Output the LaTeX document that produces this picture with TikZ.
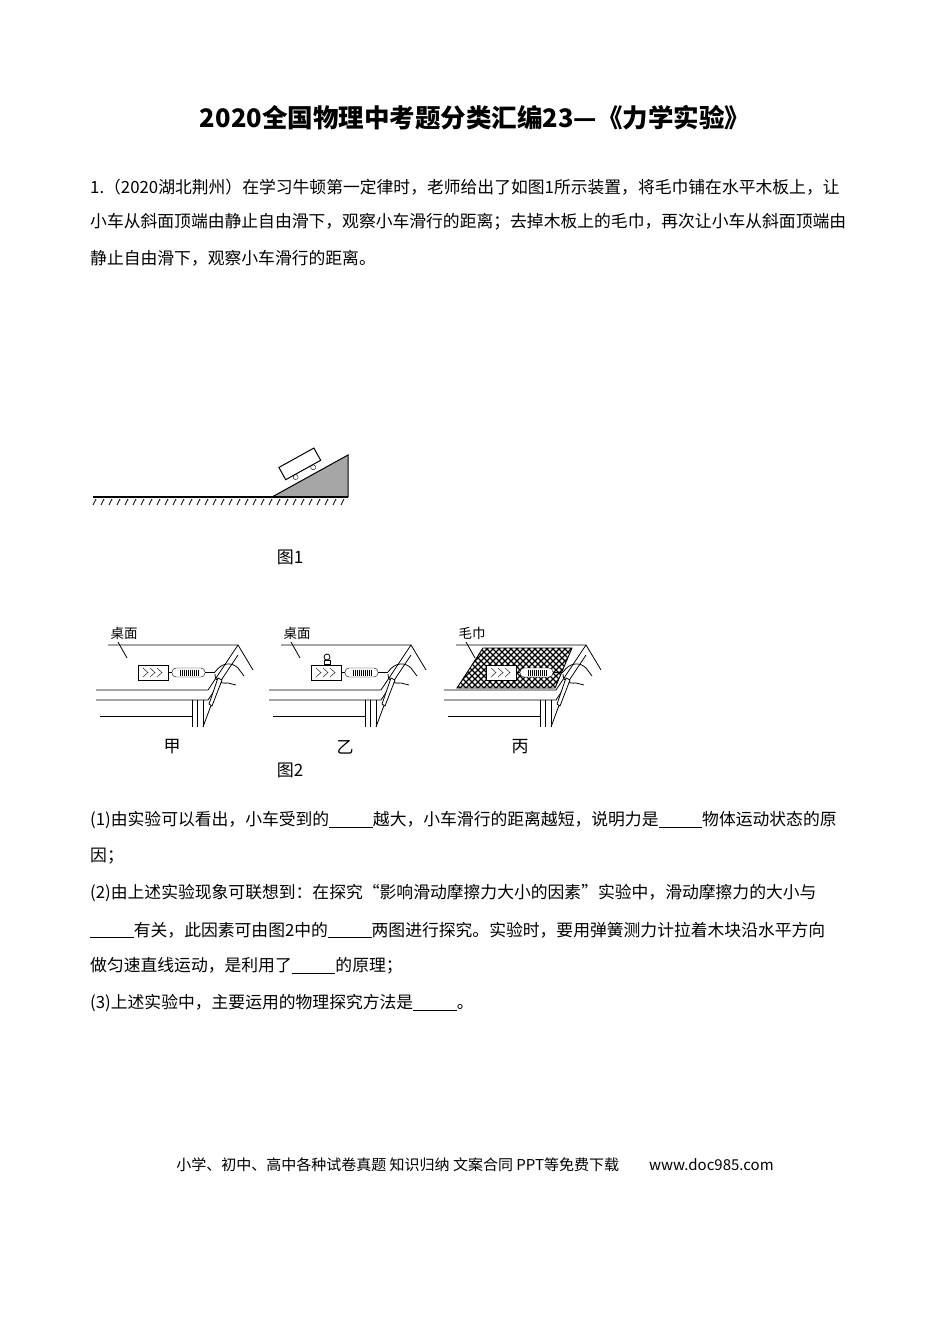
\documentclass[tikz,border=0pt]{standalone}
\usepackage{fontspec}
\setmainfont{Liberation Serif}
\newfontfamily\cjk{Noto Sans CJK SC}
\tikzset{
  line/.style={anchor=west,inner sep=0pt,font=\cjk\fontsize{16.8}{18}\selectfont},
  thin line/.style={line width=0.8pt}
}
\begin{document}
\begin{tikzpicture}[x=1pt,y=-1pt]
  \useasboundingbox[fill=white] (0,0) rectangle (950,1344);

  % title and question
  \node[font=\bfseries\cjk\fontsize{25.5}{28}\selectfont] (title) at (475,118) {2020全国物理中考题分类汇编23—《力学实验》};
  \node[line] (q1a) at (90,187) {1.（2020湖北荆州）在学习牛顿第一定律时，老师给出了如图1所示装置，将毛巾铺在水平木板上，让};
  \node[line] (q1b) at (90,222) {小车从斜面顶端由静止自由滑下，观察小车滑行的距离；去掉木板上的毛巾，再次让小车从斜面顶端由};
  \node[line] (q1c) at (90,258) {静止自由滑下，观察小车滑行的距离。};

  % figure 1
  \fill[gray!70] (272,497) -- (348,455) -- (348,497) -- cycle;
  \draw[line width=1pt] (272,497) -- (348,455) -- (348,497);
  \draw[line width=1.6pt] (93,497) -- (348,497);
  \foreach \x in {96,104,...,348}
    \draw[thin line] (\x,499) -- (\x-3,505);
  \begin{scope}[shift={(306,473)},rotate=29]
    \draw[line width=1pt,fill=white] (-21,-18) rectangle (19,-4);
    \draw (-11,-1.5) circle (2.5);
    \draw (9,-1.5) circle (2.5);
  \end{scope}
  \node[font=\cjk\fontsize{17}{18}\selectfont] (fig1) at (290,557) {图1};

  % figure 2
  \foreach \dx/\lab [count=\i] in {0/甲,173/乙,348/丙}{
    \begin{scope}[xshift=\dx]
      \draw[thin line] (108,645) -- (238,645) -- (253,670);
      \draw[thin line] (96,690) -- (208,690) -- (238,645);
      \draw[thin line] (96,700) -- (208,700) -- (238,655);
      \draw[thin line] (100,716) -- (192,716);
      \draw[thin line] (192,700) -- (192,727) (197,700) -- (197,727) (203,700) -- (203,727);
      \draw[thin line] (203,727) -- (213,700);
      \node[font=\cjk\fontsize{17}{18}\selectfont] (leg\i) at (172,747) {\lab};
    \end{scope}
  }
  % towel
  \begin{scope}
    \clip (457,688) -- (483,648) -- (572,648) -- (555,688) -- cycle;
    \foreach \t in {400,406,...,640} {
      \draw[line width=1.3pt] (\t,640) -- (\t+60,700);
      \draw[line width=1.3pt] (\t,700) -- (\t+60,640);
    }
  \end{scope}
  \draw[line width=0.9pt] (457,688) -- (483,648) -- (572,648) -- (555,688) -- cycle;
  \foreach \dx/\top [count=\i] in {0/桌面,173/桌面,348/毛巾}{
    \begin{scope}[xshift=\dx]
      \node[font=\cjk\fontsize{13.5}{14}\selectfont] (top\i) at (124,633) {\top};
      \draw[thin line] (118,642) -- (127,658);
      % block, spring, hand
      \draw[fill=white,line width=0.9pt] (138,665) rectangle (168,680);
      \draw (143,668) -- (148,672.5) -- (143,677) (150,668) -- (155,672.5) -- (150,677) (157,668) -- (162,672.5) -- (157,677);
      \draw[fill=white,rounded corners=4pt] (172,668) rectangle (205,677);
      \foreach \s in {180,182,...,198} \draw (\s,669.5) -- (\s,675.5);
      \draw (168,672.5) -- (172,672.5) (205,672.5) -- (215,672.5);
      \draw[thin line] (215,672) .. controls (222,662) and (232,662) .. (238,668) -- (244,676)
        (215,674) .. controls (214,680) and (220,684) .. (228,683) -- (236,685);
      \draw[thin line,fill=white] (218,678) -- (222,680) -- (212,706) -- (209,704) -- cycle;
    \end{scope}
  }
  % weight on block (yi)
  \draw[thin line,fill=white] (324,664) rectangle (330,660);
  \draw[thin line,fill=white] (327,657) circle (3);
  \node[font=\cjk\fontsize{17}{18}\selectfont] (fig2) at (290,770) {图2};

  % sub-questions
  \node[line] (a1) at (90,820) {(1)由实验可以看出，小车受到的\underline{\hspace{2.6em}}越大，小车滑行的距离越短，说明力是\underline{\hspace{2.6em}}物体运动状态的原};
  \node[line] (a1b) at (90,856) {因；};
  \node[line] (a2) at (90,893) {(2)由上述实验现象可联想到：在探究“影响滑动摩擦力大小的因素”实验中，滑动摩擦力的大小与};
  \node[line] (a2b) at (90,930) {\underline{\hspace{2.6em}}有关，此因素可由图2中的\underline{\hspace{2.6em}}两图进行探究。实验时，要用弹簧测力计拉着木块沿水平方向};
  \node[line] (a2c) at (90,966) {做匀速直线运动，是利用了\underline{\hspace{2.6em}}的原理；};
  \node[line] (a3) at (90,1003) {(3)上述实验中，主要运用的物理探究方法是\underline{\hspace{2.6em}}。};

  % footer
  \node[font=\cjk\fontsize{15}{16}\selectfont] (foot) at (475,1165) {小学、初中、高中各种试卷真题\ 知识归纳\ 文案合同\ PPT等免费下载\qquad www.doc985.com};
\end{tikzpicture}
\end{document}
